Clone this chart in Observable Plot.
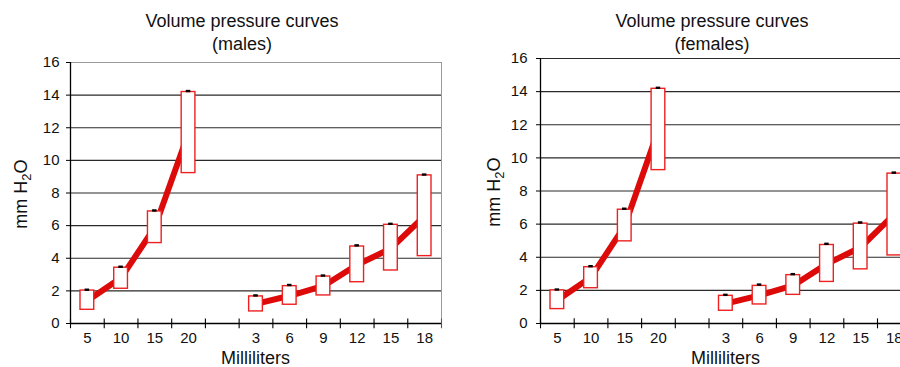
<!DOCTYPE html>
<html>
<head>
<meta charset="utf-8">
<script src="https://cdn.jsdelivr.net/npm/d3@7"></script>
<script src="https://cdn.jsdelivr.net/npm/@observablehq/plot@0.6"></script>
<style>
  body { margin: 0; background: #fff; font-family: "Liberation Sans", Arial, Helvetica, sans-serif; }
  #wrap { position: relative; width: 900px; height: 367px; overflow: hidden; background: #fff; }
  .chart { position: absolute; top: 0; }
  .txt { position: absolute; color: #111; white-space: nowrap; font-size: 18px; line-height: 23px; text-align: center; transform: translateX(-50%); }
  .xl { position: absolute; color: #111; white-space: nowrap; font-size: 18px; line-height: 18px; text-align: center; transform: translateX(-50%); }
  .ylab { position: absolute; color: #111; white-space: nowrap; font-size: 18px; line-height: 20px; transform: translate(-50%, -50%) rotate(-90deg); }
  .ylab sub { font-size: 13px; vertical-align: -4px; line-height: 0; }
</style>
</head>
<body>
<div id="wrap"></div>
<script>
// ---- data ----
const titleText = "Volume pressure curves";
const panelNames = ["(males)", "(females)"];
const xTitle = "Milliliters";
const yTicks = [0, 2, 4, 6, 8, 10, 12, 14, 16];

const volumesA = [5, 10, 15, 20];
const volumesB = [3, 6, 9, 12, 15, 18];

// males
const maleLowA  = [0.84, 2.13, 4.93, 9.22];
const maleHighA = [2.02, 3.42, 6.87, 14.19];
const maleMeanA = [1.4, 2.8, 5.9, 11.7];
const maleMaxA  = [2.07, 3.48, 6.93, 14.25];
const maleLowB  = [0.74, 1.15, 1.72, 2.53, 3.25, 4.13];
const maleHighB = [1.66, 2.29, 2.88, 4.72, 6.05, 9.08];
const maleMeanB = [1.2, 1.7, 2.3, 3.6, 4.6, 6.6];
const maleMaxB  = [1.72, 2.36, 2.94, 4.79, 6.11, 9.13];

// females
const femaleLowA  = [0.87, 2.13, 4.96, 9.26];
const femaleHighA = [2.0, 3.4, 6.87, 14.17];
const femaleMeanA = [1.4, 2.8, 5.9, 11.7];
const femaleMaxA  = [2.05, 3.46, 6.93, 14.23];
const femaleLowB  = [0.77, 1.15, 1.73, 2.51, 3.27, 4.11];
const femaleHighB = [1.67, 2.27, 2.92, 4.74, 6.03, 9.05];
const femaleMeanB = [1.2, 1.7, 2.3, 3.6, 4.6, 6.6];
const femaleMaxB  = [1.73, 2.35, 2.98, 4.81, 6.1, 9.11];

// ---- build ----
const keysA = volumesA.map(v => "A" + v);
const keysB = volumesB.map(v => "B" + v);
const keys = [...keysA, "gap", ...keysB];
const labelOf = new Map([...volumesA.map(v => ["A" + v, String(v)]), ["gap", ""], ...volumesB.map(v => ["B" + v, String(v)])]);

function rows(lowA, highA, meanA, maxA, lowB, highB, meanB, maxB) {
  return [
    ...keysA.map((k, i) => ({key: k, group: "A", low: lowA[i], high: highA[i], mean: meanA[i], max: maxA[i]})),
    ...keysB.map((k, i) => ({key: k, group: "B", low: lowB[i], high: highB[i], mean: meanB[i], max: maxB[i]}))
  ];
}

function panel({data, width, marginLeft, marginRight, marginTop, marginBottom, tickPadding, gridTop}) {
  const bw = (width - marginLeft - marginRight) / keys.length;
  const grid = gridTop ? [2, 4, 6, 8, 10, 12, 14, 16] : [2, 4, 6, 8, 10, 12, 14];
  return Plot.plot({
    width, height: 367, marginLeft, marginRight, marginTop, marginBottom,
    style: {fontFamily: "'Liberation Sans', Arial, Helvetica, sans-serif", fontSize: "15px", background: "transparent", color: "#111", overflow: "visible"},
    x: {type: "band", domain: keys, padding: 0, round: false, axis: null},
    y: {domain: [0, 16], axis: null},
    marks: [
      Plot.frame({stroke: "#9a9a9a", strokeWidth: 1}),
      Plot.ruleY(grid, {stroke: "#2a2a2a", strokeWidth: 1.1}),
      Plot.ruleY([0], {stroke: "#000", strokeWidth: 1.3}),
      Plot.ruleX([keys[0]], {x: d => d, dx: -bw / 2, y1: 0, y2: 16, stroke: "#000", strokeWidth: 1.3}),
      Plot.ruleX(keys, {x: d => d, dx: -bw / 2, y1: -0.32, y2: 0.28, stroke: "#000", strokeWidth: 1.1}),
      Plot.ruleX([keys[keys.length - 1]], {x: d => d, dx: bw / 2, y1: -0.32, y2: 0.28, stroke: "#555", strokeWidth: 1.1}),
      Plot.line(data, {x: "key", y: "mean", z: "group", stroke: "#dd0a0a", strokeWidth: 6}),
      Plot.barY(data, {x: "key", y1: "low", y2: "high", fill: "#fff", stroke: "#ee2020", strokeWidth: 1.4, insetLeft: 10, insetRight: 10}),
      Plot.tickY(data, {x: "key", y: "max", stroke: "#000", strokeWidth: 2.4, insetLeft: 14.6, insetRight: 14.6}),
      Plot.axisY({ticks: yTicks, tickSize: 4, tickPadding, fontSize: 15, label: null, stroke: "#000"}),
      Plot.axisX({ticks: keys, tickSize: 0, tickPadding: 9, fontSize: 15, tickFormat: k => labelOf.get(k), label: null})
    ]
  });
}

const wrap = document.getElementById("wrap");

const configs = [
  {left: 0, width: 450, marginLeft: 70, marginRight: 9, marginTop: 62, marginBottom: 44, tickPadding: 7, gridTop: false,
   data: rows(maleLowA, maleHighA, maleMeanA, maleMaxA, maleLowB, maleHighB, maleMeanB, maleMaxB),
   titleX: 242, xlabX: 255.5, ylab: [21, 194], name: panelNames[0]},
  {left: 450, width: 470, marginLeft: 90, marginRight: 9.3, marginTop: 58, marginBottom: 44, tickPadding: 9, gridTop: true,
   data: rows(femaleLowA, femaleHighA, femaleMeanA, femaleMaxA, femaleLowB, femaleHighB, femaleMeanB, femaleMaxB),
   titleX: 712, xlabX: 725.5, ylab: [494, 192], name: panelNames[1]}
];

for (const c of configs) {
  const svg = panel(c);
  svg.classList.add("chart");
  svg.style.left = c.left + "px";
  wrap.appendChild(svg);

  const t = document.createElement("div");
  t.className = "txt";
  t.style.left = c.titleX + "px";
  t.style.top = "9.5px";
  t.innerHTML = titleText + "<br>" + c.name;
  wrap.appendChild(t);

  const xl = document.createElement("div");
  xl.className = "xl";
  xl.style.left = c.xlabX + "px";
  xl.style.top = "348.5px";
  xl.textContent = xTitle;
  wrap.appendChild(xl);

  const yl = document.createElement("div");
  yl.className = "ylab";
  yl.style.left = c.ylab[0] + "px";
  yl.style.top = c.ylab[1] + "px";
  yl.innerHTML = "mm H<sub>2</sub>O";
  wrap.appendChild(yl);
}
</script>
</body>
</html>
